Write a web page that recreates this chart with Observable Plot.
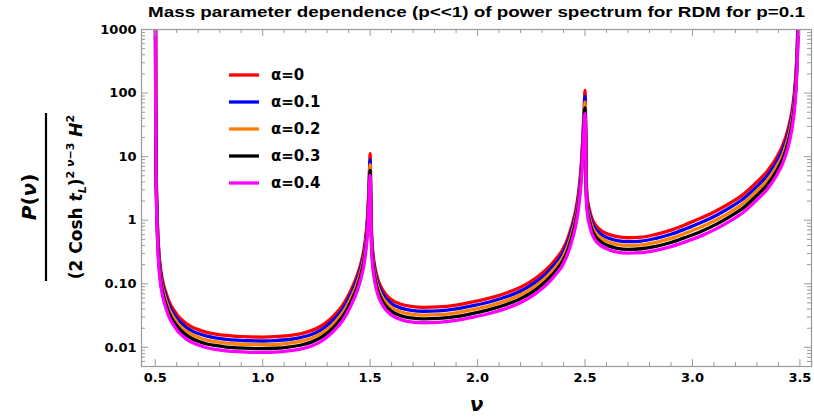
<!DOCTYPE html>
<html><head><meta charset="utf-8">
<script src="https://cdn.jsdelivr.net/npm/d3@7"></script>
<script src="https://cdn.jsdelivr.net/npm/@observablehq/plot@0.6"></script>
<style>
body{margin:0;background:#fff;}
#chart svg{display:block;}
</style>
</head><body><div id="chart"></div>
<script>
const titleText = "Mass parameter dependence (p<<1) of power spectrum for RDM for p=0.1";
const xLabel = "ν";
const seriesLabels = ["α=0","α=0.1","α=0.2","α=0.3","α=0.4"];
const seriesColors = ["#ff0000","#0000ff","#ff8000","#000000","#ff00ff"];
const xTicks = [0.5,1.0,1.5,2.0,2.5,3.0,3.5];
const xTickLabels = ["0.5","1.0","1.5","2.0","2.5","3.0","3.5"];
const yTicks = [0.01,0.1,1,10,100,1000];
const yTickLabels = ["0.01","0.10","1","10","100","1000"];

const nu = [0.501,0.502,0.504,0.507,0.511,0.517,0.524,0.531,0.540,0.550,0.562,0.575,0.590,0.605,0.623,0.645,0.670,0.700,0.740,0.780,0.830,0.880,0.940,1.000,1.060,1.120,1.180,1.230,1.270,1.310,1.340,1.370,1.395,1.415,1.432,1.447,1.460,1.470,1.478,1.485,1.490,1.494,1.497,1.500,1.503,1.506,1.510,1.516,1.524,1.535,1.550,1.570,1.600,1.640,1.690,1.750,1.820,1.900,1.980,2.060,2.140,2.210,2.270,2.320,2.360,2.395,2.420,2.440,2.455,2.467,2.477,2.485,2.491,2.496,2.500,2.503,2.506,2.511,2.520,2.533,2.550,2.575,2.610,2.650,2.700,2.760,2.830,2.900,2.970,3.040,3.110,3.180,3.240,3.300,3.350,3.390,3.420,3.445,3.462,3.474,3.483,3.490,3.495];

const alpha0 = [3000,100,8,2.2,0.75,0.32,0.18,0.127,0.093,0.072,0.0548,0.0445,0.0370,0.0315,0.0272,0.0236,0.0210,0.0190,0.0172,0.0162,0.0154,0.0149,0.0146,0.0145,0.0147,0.0153,0.0165,0.0185,0.0215,0.027,0.034,0.045,0.062,0.085,0.115,0.16,0.23,0.33,0.5,0.85,1.5,3,6,11.1,2.5,0.75,0.40,0.25,0.17,0.12,0.09,0.070,0.056,0.048,0.044,0.0425,0.0432,0.0462,0.052,0.060,0.073,0.092,0.122,0.168,0.235,0.34,0.52,0.85,1.35,2.3,4.5,10,25,55,110,30,3.8,2.2,1.5,1.05,0.83,0.69,0.60,0.55,0.53,0.54,0.60,0.70,0.86,1.08,1.40,1.90,2.60,4.0,6.0,9.5,15,27,50,100,250,1000,5000];

const alpha01 = [2610,87,6.96,1.91,0.653,0.278,0.157,0.110,0.0809,0.0626,0.0477,0.0387,0.0322,0.0274,0.0237,0.0205,0.0183,0.0165,0.0150,0.0141,0.0134,0.0130,0.0127,0.0126,0.0128,0.0133,0.0144,0.0161,0.0187,0.0235,0.0296,0.0392,0.0539,0.0740,0.100,0.139,0.200,0.287,0.435,0.740,1.31,2.61,5.22,9.0,2.18,0.653,0.348,0.218,0.148,0.104,0.0783,0.0609,0.0487,0.0418,0.0383,0.0370,0.0376,0.0402,0.0452,0.0522,0.0635,0.0800,0.106,0.146,0.204,0.296,0.452,0.740,1.17,2.00,3.92,8.7,21.8,47.9,89,26.1,3.31,1.91,1.31,0.914,0.722,0.600,0.522,0.479,0.461,0.470,0.519,0.602,0.736,0.919,1.19,1.62,2.21,3.40,5.10,8.08,12.8,23.0,42.5,85,213,850,4250];

const alpha02 = [2271,75.7,6.06,1.67,0.568,0.242,0.136,0.0961,0.0704,0.0545,0.0415,0.0337,0.0280,0.0238,0.0206,0.0179,0.0159,0.0144,0.0130,0.0123,0.0117,0.0113,0.0111,0.0110,0.0111,0.0116,0.0125,0.0140,0.0163,0.0204,0.0257,0.0341,0.0469,0.0643,0.0871,0.121,0.174,0.250,0.379,0.643,1.14,2.27,4.54,7.5,1.89,0.568,0.303,0.189,0.129,0.0908,0.0681,0.0530,0.0424,0.0363,0.0333,0.0322,0.0327,0.0350,0.0394,0.0454,0.0553,0.0696,0.0924,0.127,0.178,0.257,0.394,0.643,1.02,1.74,3.41,7.57,18.9,41.6,72,22.7,2.88,1.67,1.14,0.795,0.628,0.522,0.454,0.416,0.401,0.409,0.449,0.518,0.630,0.782,1.01,1.37,1.88,2.89,4.34,6.87,10.8,19.5,36.2,72.3,181,723,3615];

const alpha03 = [1977,65.9,5.27,1.45,0.494,0.211,0.119,0.0837,0.0613,0.0474,0.0361,0.0293,0.0244,0.0208,0.0179,0.0156,0.0138,0.0125,0.0113,0.0107,0.0101,0.00982,0.00962,0.00956,0.00969,0.0101,0.0109,0.0122,0.0142,0.0178,0.0224,0.0297,0.0409,0.0560,0.0758,0.105,0.152,0.217,0.330,0.560,0.989,1.98,3.95,6.1,1.65,0.494,0.264,0.165,0.112,0.0791,0.0593,0.0461,0.0369,0.0316,0.0290,0.0280,0.0285,0.0304,0.0343,0.0395,0.0481,0.0606,0.0804,0.111,0.155,0.224,0.343,0.560,0.890,1.52,2.97,6.59,16.5,36.2,58.7,19.8,2.50,1.45,0.989,0.692,0.547,0.455,0.395,0.362,0.349,0.356,0.388,0.446,0.539,0.666,0.860,1.17,1.60,2.46,3.68,5.83,9.21,16.6,30.7,61.4,154,614,3070];

const alpha04 = [1719,57.3,4.58,1.26,0.430,0.183,0.103,0.0728,0.0533,0.0413,0.0314,0.0255,0.0212,0.0180,0.0156,0.0135,0.0120,0.0109,0.00986,0.00928,0.00882,0.00854,0.00837,0.00831,0.00842,0.00877,0.00945,0.0106,0.0123,0.0155,0.0195,0.0258,0.0355,0.0487,0.0659,0.0917,0.132,0.189,0.287,0.487,0.860,1.72,3.44,5.06,1.43,0.430,0.229,0.143,0.0974,0.0688,0.0516,0.0401,0.0321,0.0275,0.0252,0.0244,0.0248,0.0265,0.0298,0.0344,0.0418,0.0527,0.0699,0.0963,0.135,0.195,0.298,0.487,0.774,1.32,2.58,5.73,14.3,31.5,47.3,17.2,2.18,1.26,0.860,0.602,0.476,0.395,0.344,0.315,0.304,0.309,0.336,0.384,0.461,0.567,0.731,0.992,1.36,2.09,3.13,4.96,7.83,14.1,26.1,52.2,131,522,2610];

const seriesValues = [alpha0, alpha01, alpha02, alpha03, alpha04];

// layout
const W = 814, H = 419, mL = 141, mR = 3, mT = 29, mB = 53;
const fw = W - mL - mR, fh = H - mT - mB;
const frameColor = "#9a9a9a";

// frame tick positions
const minorX = d3.range(5, 36).map(i => i / 10).filter(v => Math.abs(v * 2 - Math.round(v * 2)) > 1e-6);
const minorY = [];
for (const dec of [0.001, 0.01, 0.1, 1, 10, 100]) for (let k = 2; k <= 9; k++) { const v = k * dec; if (v >= 0.005 && v < 1000) minorY.push(v); }

const lineMarks = seriesValues.map((vals, i) =>
  Plot.line(nu.map((n, j) => ({nu: n, value: vals[j]})), {
    x: "nu", y: "value", stroke: seriesColors[i], strokeWidth: 3.3,
    curve: "monotone-x", clip: true
  })
);

const fmt = (ticks, labels) => d => { const i = ticks.findIndex(t => Math.abs(t - d) < 1e-9 * Math.max(1, t)); return i >= 0 ? labels[i] : ""; };

const plot = Plot.plot({
  width: W, height: H,
  marginLeft: mL, marginRight: mR, marginTop: mT, marginBottom: mB,
  x: {domain: [0.436, 3.554]},
  y: {type: "log", domain: [0.005, 1000]},
  style: {fontFamily: "DejaVu Sans", fontWeight: "bold", fontSize: "13px", background: "#fff", color: "#000", overflow: "visible"},
  marks: [
    ...lineMarks,
    Plot.frame({stroke: frameColor, strokeWidth: 1.2}),
    Plot.tickX(xTicks, {x: d => d, insetTop: fh - 7, stroke: frameColor}),
    Plot.tickX(xTicks, {x: d => d, insetBottom: fh - 7, stroke: frameColor}),
    Plot.tickX(minorX, {x: d => d, insetTop: fh - 4, stroke: frameColor}),
    Plot.tickX(minorX, {x: d => d, insetBottom: fh - 4, stroke: frameColor}),
    Plot.tickY(yTicks, {y: d => d, insetRight: fw - 7, stroke: frameColor}),
    Plot.tickY(yTicks, {y: d => d, insetLeft: fw - 7, stroke: frameColor}),
    Plot.tickY(minorY, {y: d => d, insetRight: fw - 4, stroke: frameColor}),
    Plot.tickY(minorY, {y: d => d, insetLeft: fw - 4, stroke: frameColor}),
    Plot.axisX({ticks: xTicks, tickFormat: fmt(xTicks, xTickLabels), tickSize: 0, tickPadding: 6, label: null, fontSize: 13, fontWeight: "bold"}),
    Plot.axisY({ticks: yTicks, tickFormat: fmt(yTicks, yTickLabels), tickSize: 0, tickPadding: 5, label: null, fontSize: 13, fontWeight: "bold"}),
    Plot.text([xLabel], {frameAnchor: "bottom", dy: 38, lineAnchor: "middle", fontSize: 20, fontWeight: "bold", fontStyle: "italic"})
  ]
});

const svg = d3.select(plot);

// title
svg.append("text").attr("x", 476.5).attr("y", 16.7).attr("text-anchor", "middle")
  .attr("font-family", "Liberation Sans, Arial, sans-serif").attr("font-weight", "bold").attr("font-size", 15)
  .attr("textLength", 657).attr("lengthAdjust", "spacingAndGlyphs").attr("fill", "#000").text(titleText);

// legend
const lg = svg.append("g").attr("font-family", "DejaVu Sans").attr("font-weight", "bold").attr("font-size", 15).attr("text-anchor", "start");
seriesLabels.forEach((lab, i) => {
  const y = 75 + i * 27;
  lg.append("line").attr("x1", 229).attr("x2", 259).attr("y1", y).attr("y2", y)
    .attr("stroke", seriesColors[i]).attr("stroke-width", 3.3);
  lg.append("text").attr("x", 271).attr("y", y).attr("dy", "0.35em").attr("fill", "#000").text(lab);
});

// y-axis label (fraction)
const yl = svg.append("g").attr("font-family", "DejaVu Sans").attr("font-weight", "bold").attr("fill", "#000");
yl.append("text").attr("transform", "translate(36,197) rotate(-90)").attr("text-anchor", "middle")
  .attr("font-size", 20)
  .call(t => { t.append("tspan").attr("font-style", "italic").text("P"); t.append("tspan").text("("); t.append("tspan").attr("font-style", "italic").text("ν"); t.append("tspan").text(")"); });
yl.append("line").attr("x1", 46).attr("x2", 46).attr("y1", 113).attr("y2", 281).attr("stroke", "#000").attr("stroke-width", 2.2);
yl.append("text").attr("transform", "translate(82,197) rotate(-90)").attr("text-anchor", "middle")
  .attr("font-size", 17)
  .call(t => {
    t.append("tspan").text("(2 Cosh ");
    t.append("tspan").attr("font-style", "italic").text("t");
    t.append("tspan").attr("font-style", "italic").attr("font-size", 11).attr("dy", 4).text("L");
    t.append("tspan").attr("dy", -4).text(")");
    t.append("tspan").attr("font-size", 11).attr("dy", -8).text("2 ");
    t.append("tspan").attr("font-size", 11).attr("font-style", "italic").text("ν");
    t.append("tspan").attr("font-size", 11).text("−3");
    t.append("tspan").attr("dy", 8).text(" ");
    t.append("tspan").attr("font-style", "italic").text("H");
    t.append("tspan").attr("font-size", 11).attr("dy", -8).text("2");
  });

document.getElementById("chart").appendChild(plot);
</script>
</body></html>
